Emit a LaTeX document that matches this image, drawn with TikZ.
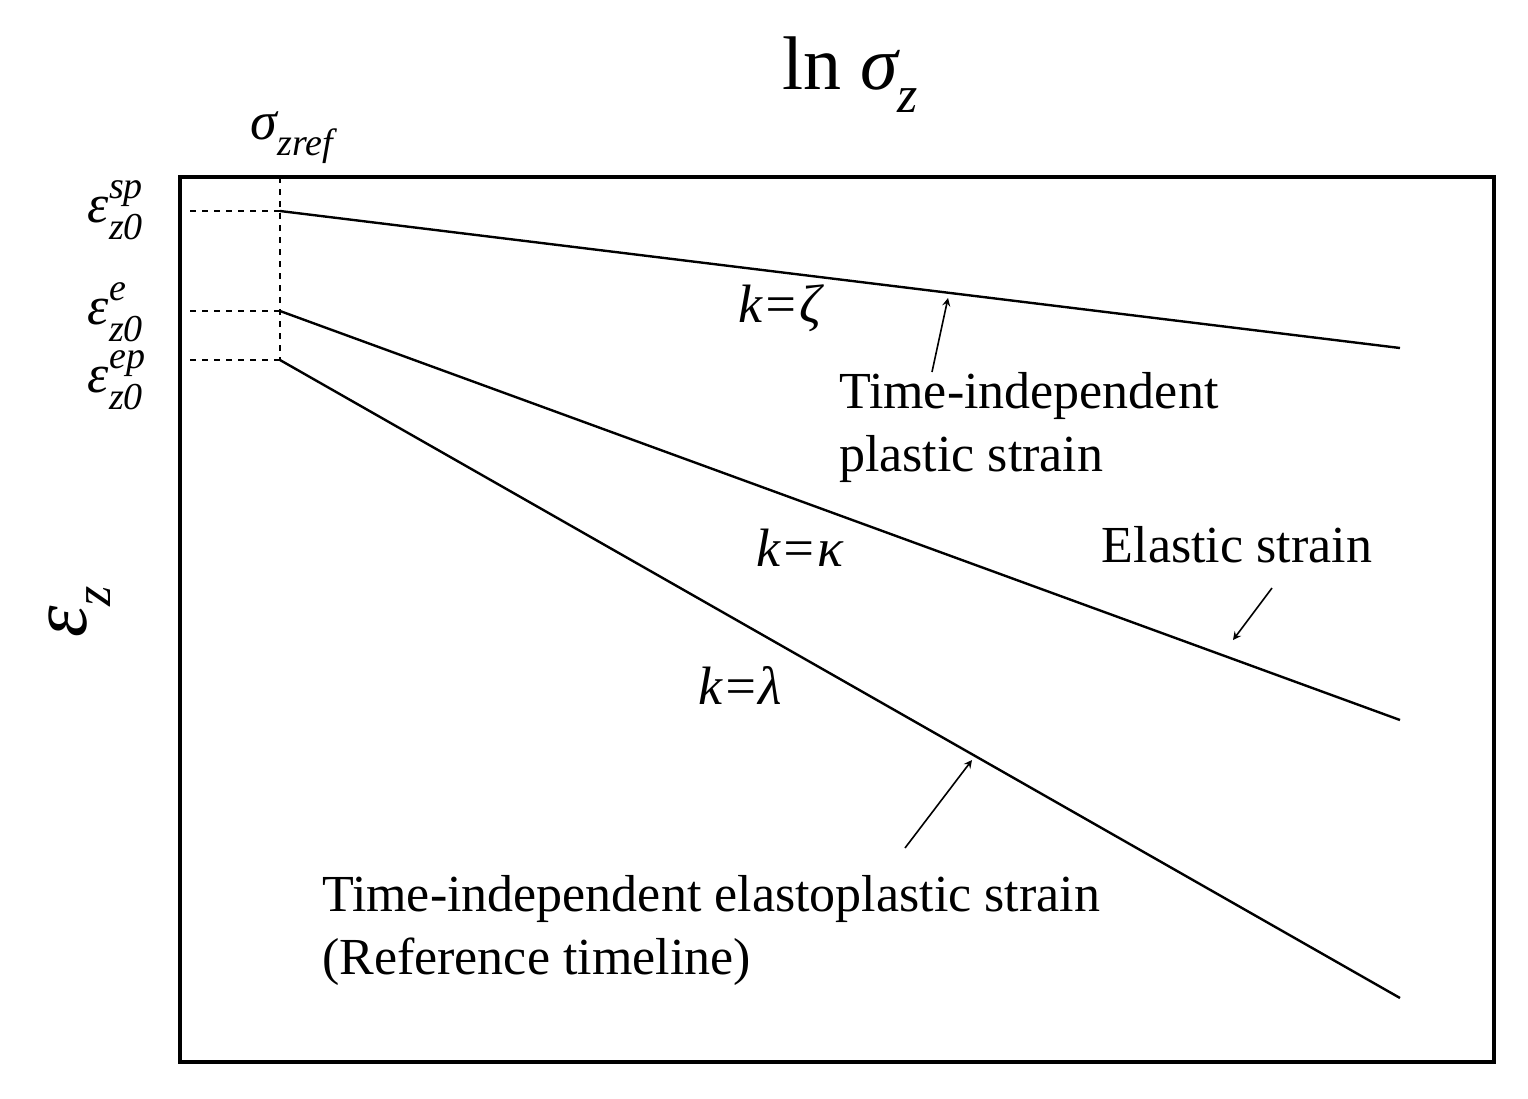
\documentclass[tikz,border=0pt]{standalone}
\usepackage{fontspec}
\setmainfont{Liberation Serif}
\begin{document}
\begin{tikzpicture}[x=0.5pt,y=-0.5pt,
  lab/.style={font=\fontsize{26}{31.5}\selectfont, align=left},
  mlab/.style={font=\fontsize{27}{31.5}\selectfont\itshape},
  cur/.style={line width=1.2pt},
  dsh/.style={dashed, line width=0.7pt},
  arr/.style={-stealth, line width=0.8pt}]
\useasboundingbox (0,0) rectangle (1528,1099);
\draw[line width=1.6pt] (180,177) rectangle (1494,1062);
\coordinate (a1) at (280,211); \coordinate (a2) at (1400,348);
\coordinate (b1) at (280,311); \coordinate (b2) at (1400,720);
\coordinate (c1) at (280,360); \coordinate (c2) at (1400,998);
\coordinate (top) at (280,177);
\coordinate (l1) at (190,211); \coordinate (l2) at (190,311); \coordinate (l3) at (190,360);
\draw[cur] (a1)--(a2); \draw[cur] (b1)--(b2); \draw[cur] (c1)--(c2);
\draw[dsh] (top)--(c1); \draw[dsh] (l1)--(a1); \draw[dsh] (l2)--(b1); \draw[dsh] (l3)--(c1);
\node[font=\fontsize{38}{44}\selectfont] (ln) at (850,75) {ln \textit{σ\raisebox{-0.3em}{\fontsize{26}{30}\selectfont z}}};
\node[mlab] (sr) at (292,138) {σ\raisebox{-0.3em}{\fontsize{19}{22}\selectfont zref}};
\newcommand{\epsl}[1]{ε\rlap{\raisebox{0.45em}{\fontsize{19}{22}\selectfont #1}}\raisebox{-0.3em}{\fontsize{19}{22}\selectfont z0}}
\node[mlab,anchor=east] (e1) at (150,210) {\epsl{sp}};
\node[mlab,anchor=east] (e2) at (150,312) {\epsl{e}};
\node[mlab,anchor=east] (e3) at (150,380) {\epsl{ep}};
\node[font=\fontsize{40}{44}\selectfont\itshape,rotate=90] (ez) at (80,612) {ε\raisebox{-0.3em}{\fontsize{26}{30}\selectfont z}};
\node[mlab] (kz) at (780,308) {k=ζ};
\node[mlab] (kk) at (800,548) {k=κ};
\node[mlab] (kl) at (740,685) {k=λ};
\node[lab,anchor=north west] (tp) at (832,365) {Time-independent\\plastic strain};
\node[lab] (es) at (1237,545) {Elastic strain};
\node[lab,anchor=north west] (te) at (315,868) {Time-independent elastoplastic strain\\(Reference timeline)};
\coordinate (p1) at (932,372); \coordinate (p2) at (948,298);
\coordinate (q1) at (1272,588); \coordinate (q2) at (1233,640);
\coordinate (r1) at (905,848); \coordinate (r2) at (972,760);
\draw[arr] (p1)--(p2); \draw[arr] (q1)--(q2); \draw[arr] (r1)--(r2);
\end{tikzpicture}
\end{document}
